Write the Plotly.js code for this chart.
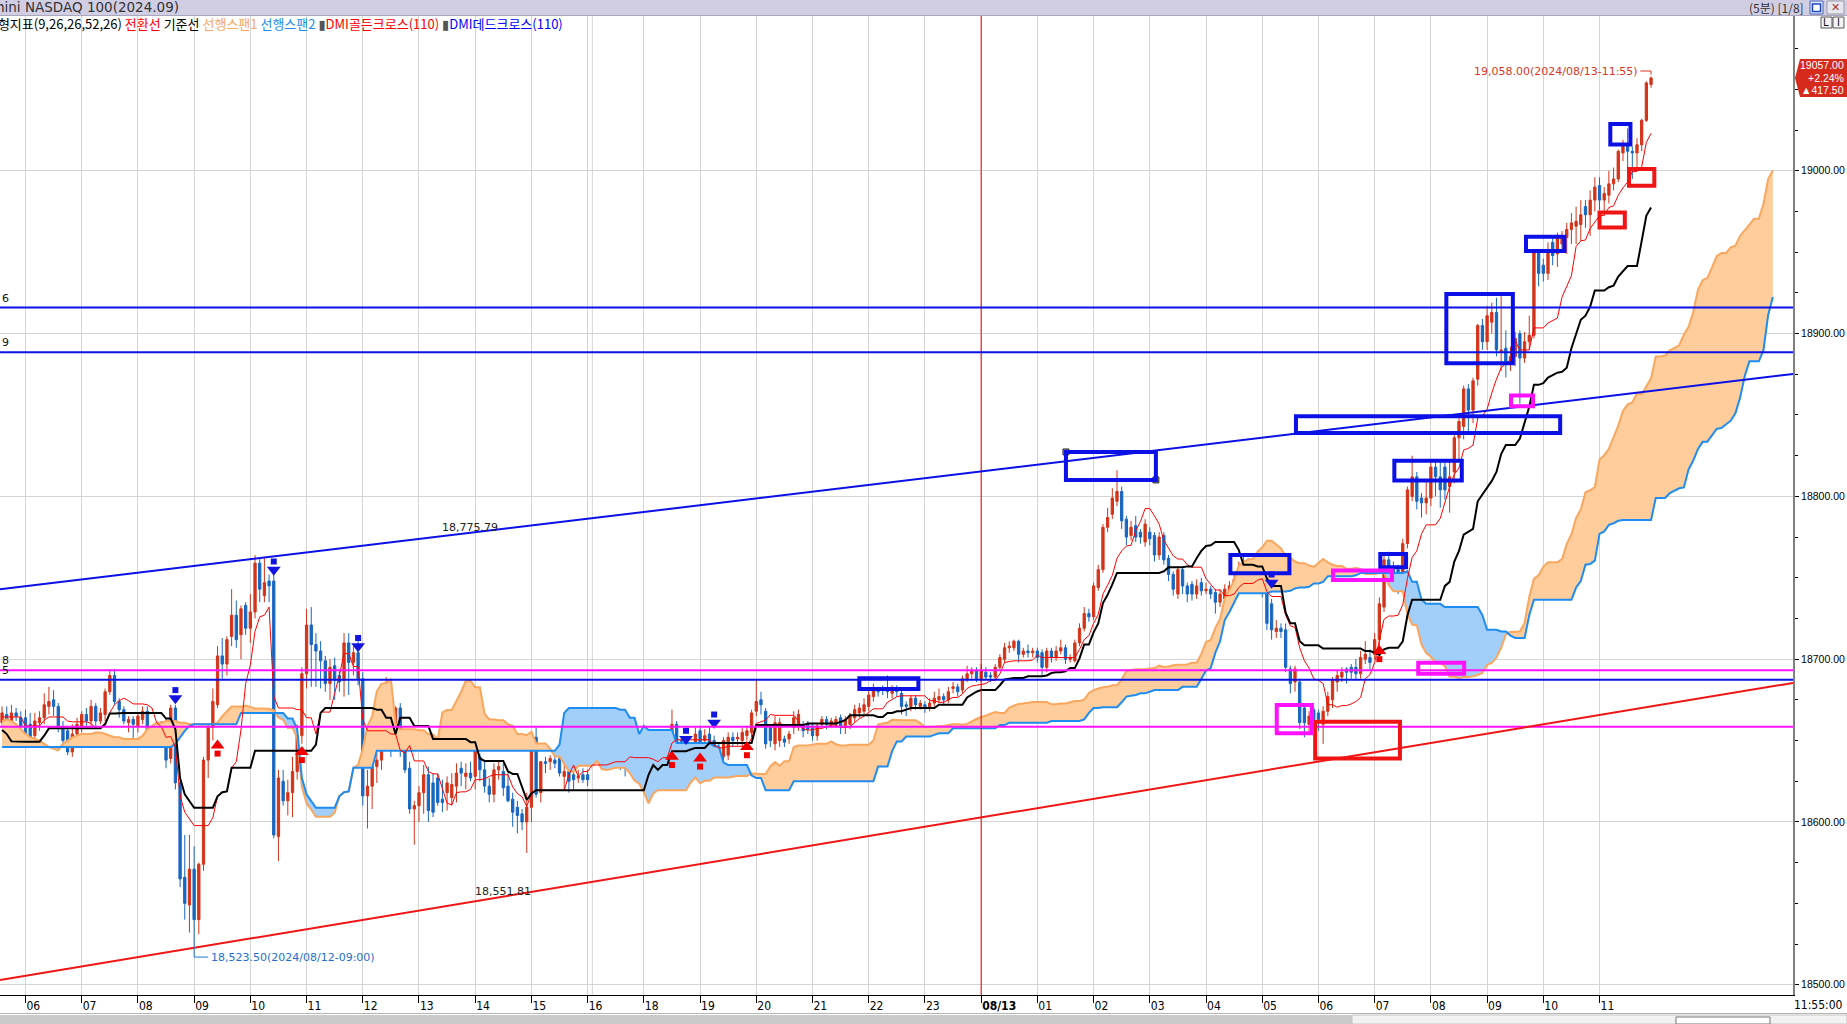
<!DOCTYPE html>
<html>
<head>
<meta charset="utf-8">
<script src="https://cdn.plot.ly/plotly-3.0.1.min.js"></script>
<style>
html,body{margin:0;padding:0;background:#fff;overflow:hidden}
#chart{width:1847px;height:1024px}
</style>
</head>
<body>
<div id="chart"></div>
<script>
// E-mini NASDAQ 100 (2024.09), 5-minute bars. Bar 0 = 08/12 06:00, one bar per 5 minutes,
// session break 17:00-18:00 skipped. First bar = 05:35, last bar = 08/13 11:55.
const firstBar = -5;
const barsPerHour = 12;

const opens = [
  18661,18666,18660,18667,18664,18664,18660,18653,18661,18664,
  18671,18675,18671,18658,18656,18643,18654,18659,18666,18662,
  18671,18662,18666,18680,18690,18674,18669,18661,18663,18659,
  18663,18668,18654,18650,18652,18661,18639,18670,18624,18566,
  18549,18571,18540,18574,18638,18658,18672,18702,18697,18714,
  18727,18715,18733,18719,18729,18759,18739,18748,18748,18591,
  18625,18613,18618,18631,18653,18691,18721,18709,18705,18699,
  18685,18696,18690,18687,18710,18698,18704,18688,18616,18622,
  18634,18638,18661,18670,18653,18670,18652,18633,18608,18610,
  18618,18629,18624,18627,18614,18618,18615,18622,18633,18628,
  18630,18628,18640,18632,18622,18617,18632,18631,18622,18614,
  18609,18605,18600,18609,18652,18618,18637,18637,18638,18639,
  18628,18631,18629,18627,18629,18629,18648,18641,18645,18641,
  18642,18644,18644,18635,18633,18630,18640,18636,18641,18641,
  18640,18644,18649,18644,18660,18650,18638,18642,18645,18656,
  18650,18654,18650,18646,18640,18641,18652,18651,18650,18653,
  18655,18668,18675,18668,18658,18648,18650,18651,18651,18658,
  18660,18660,18660,18659,18653,18660,18663,18660,18660,18664,
  18659,18660,18664,18667,18668,18671,18677,18681,18682,18682,
  18679,18682,18679,18672,18671,18676,18671,18672,18670,18673,
  18675,18677,18675,18682,18683,18681,18688,18691,18693,18688,
  18692,18690,18689,18695,18700,18707,18707,18711,18703,18705,
  18704,18705,18704,18695,18705,18701,18705,18707,18700,18699,
  18710,18719,18728,18726,18744,18755,18781,18789,18797,18803,
  18786,18776,18782,18778,18772,18778,18776,18764,18776,18762,
  18752,18740,18755,18745,18746,18740,18747,18742,18743,18741,
  18735,18737,18740,18742,18748,18753,18755,18746,18750,18753,
  18743,18734,18717,18719,18718,18694,18686,18686,18670,18660,
  18669,18667,18660,18668,18675,18686,18689,18694,18695,18695,
  18691,18700,18701,18703,18712,18732,18761,18755,18755,18753,
  18771,18800,18812,18799,18796,18799,18818,18812,18818,18806,
  18815,18836,18843,18866,18853,18872,18905,18895,18907,18913,
  18889,18891,18883,18886,18900,18885,18895,18899,18950,18942,
  18937,18956,18949,18955,18959,18964,18966,18967,18978,18973,
  18982,18991,18982,18985,18992,18995,19011,19015,19012,19011,
  19016,19031,19053
];
const highs = [
  18671,18671,18672,18670,18668,18669,18667,18667,18668,18679,
  18683,18681,18673,18662,18658,18660,18664,18668,18670,18675,
  18673,18670,18682,18694,18694,18676,18671,18665,18665,18667,
  18671,18671,18658,18655,18662,18664,18672,18672,18626,18592,
  18592,18585,18575,18640,18660,18682,18708,18713,18714,18743,
  18736,18733,18735,18740,18764,18762,18762,18752,18752,18632,
  18632,18626,18640,18660,18695,18731,18732,18716,18711,18702,
  18700,18701,18693,18716,18716,18708,18712,18692,18632,18636,
  18642,18671,18689,18676,18671,18673,18656,18637,18613,18622,
  18635,18634,18630,18630,18626,18628,18630,18636,18637,18636,
  18637,18646,18642,18638,18627,18636,18638,18636,18630,18618,
  18613,18608,18618,18654,18658,18637,18640,18641,18644,18642,
  18638,18634,18633,18632,18633,18632,18652,18649,18648,18646,
  18651,18649,18646,18637,18640,18644,18642,18643,18643,18643,
  18644,18651,18651,18669,18662,18652,18645,18649,18658,18659,
  18657,18659,18653,18648,18652,18655,18655,18655,18658,18659,
  18669,18687,18680,18670,18660,18665,18664,18653,18656,18668,
  18669,18662,18662,18661,18661,18665,18665,18664,18665,18666,
  18665,18667,18672,18673,18676,18681,18685,18683,18684,18690,
  18684,18684,18681,18674,18678,18678,18675,18674,18676,18680,
  18682,18679,18683,18686,18685,18690,18696,18695,18695,18697,
  18695,18692,18697,18703,18710,18711,18712,18712,18707,18709,
  18707,18707,18706,18707,18707,18708,18712,18709,18703,18712,
  18722,18732,18731,18747,18758,18783,18793,18805,18816,18806,
  18788,18785,18788,18780,18786,18781,18778,18778,18778,18764,
  18754,18757,18757,18747,18748,18749,18750,18747,18745,18743,
  18743,18746,18748,18752,18760,18765,18762,18762,18760,18757,
  18746,18737,18724,18722,18722,18696,18696,18688,18672,18668,
  18671,18669,18671,18680,18689,18693,18695,18695,18697,18700,
  18705,18711,18706,18716,18738,18764,18766,18760,18758,18774,
  18806,18825,18815,18802,18810,18821,18821,18821,18821,18821,
  18840,18848,18868,18869,18873,18906,18909,18917,18919,18922,
  18923,18902,18892,18901,18902,18901,18911,18950,18950,18946,
  18956,18959,18962,18963,18968,18974,18978,18982,18982,18988,
  18996,18996,18990,19000,19002,19013,19019,19026,19015,19020,
  19032,19055,19058
];
const lows = [
  18658,18660,18657,18662,18657,18646,18647,18646,18656,18660,
  18666,18665,18655,18646,18641,18640,18650,18655,18658,18658,
  18658,18660,18662,18678,18672,18664,18660,18655,18651,18655,
  18660,18650,18646,18646,18648,18633,18636,18620,18560,18540,
  18532,18523.5,18531,18570,18627,18650,18670,18688,18690,18708,
  18707,18700,18715,18710,18725,18735,18735,18735,18590,18576,
  18610,18604,18603,18626,18648,18682,18683,18683,18682,18680,
  18675,18675,18680,18677,18678,18690,18684,18610,18596,18608,
  18624,18632,18652,18640,18645,18640,18630,18605,18586,18600,
  18605,18600,18603,18610,18606,18607,18610,18612,18622,18620,
  18625,18620,18625,18618,18612,18612,18626,18616,18612,18597,
  18593,18595,18581,18600,18615,18612,18630,18632,18633,18628,
  18620,18618,18620,18624,18624,18622,18638,18636,18636,18638,
  18640,18640,18632,18628,18630,18628,18634,18632,18638,18637,
  18638,18641,18640,18641,18646,18633,18632,18637,18642,18645,
  18646,18643,18640,18634,18636,18638,18646,18647,18646,18650,
  18652,18665,18666,18645,18646,18644,18646,18646,18648,18654,
  18656,18652,18654,18650,18650,18658,18657,18658,18658,18654,
  18654,18657,18661,18664,18665,18668,18674,18677,18678,18676,
  18676,18677,18666,18665,18668,18669,18669,18667,18668,18671,
  18673,18672,18673,18679,18677,18679,18686,18688,18686,18686,
  18687,18686,18687,18693,18698,18704,18705,18698,18701,18701,
  18701,18698,18690,18692,18698,18699,18703,18697,18698,18698,
  18708,18717,18723,18724,18742,18753,18778,18786,18794,18780,
  18770,18773,18772,18771,18769,18770,18760,18761,18758,18748,
  18739,18737,18740,18735,18736,18737,18739,18740,18737,18728,
  18732,18734,18738,18738,18745,18750,18744,18744,18746,18738,
  18718,18712,18713,18713,18692,18679,18680,18657,18652,18654,
  18658,18656,18648,18665,18670,18680,18686,18685,18688,18687,
  18688,18697,18693,18700,18708,18729,18750,18744,18740,18748,
  18768,18797,18792,18787,18789,18794,18800,18793,18798,18790,
  18808,18822,18835,18840,18845,18868,18890,18890,18900,18886,
  18877,18873,18877,18880,18857,18882,18890,18897,18929,18932,
  18933,18942,18941,18950,18949,18955,18955,18957,18965,18960,
  18975,18976,18973,18980,18988,18993,19006,18997,18995,19000,
  19012,19030,19051
];
const closes = [
  18667,18663,18667,18665,18659,18650,18650,18662,18664,18672,
  18674,18671,18658,18650,18643,18654,18660,18666,18662,18671,
  18662,18667,18680,18690,18674,18669,18662,18663,18660,18665,
  18668,18654,18650,18652,18661,18638,18670,18624,18565,18550,
  18571,18540,18574,18638,18658,18674,18702,18697,18712,18727,
  18712,18731,18719,18729,18759,18743,18747,18745,18592,18627,
  18613,18618,18631,18653,18691,18721,18709,18705,18699,18685,
  18695,18687,18686,18710,18698,18704,18688,18616,18622,18634,
  18638,18661,18675,18653,18670,18651,18632,18608,18610,18618,
  18629,18607,18606,18612,18612,18624,18623,18630,18630,18630,
  18627,18644,18632,18622,18617,18632,18634,18621,18613,18606,
  18604,18600,18609,18652,18617,18637,18636,18639,18636,18630,
  18631,18625,18626,18628,18626,18626,18642,18645,18641,18643,
  18645,18646,18634,18633,18637,18641,18637,18641,18640,18639,
  18642,18649,18644,18660,18649,18637,18643,18647,18654,18648,
  18653,18647,18646,18640,18650,18652,18650,18652,18655,18656,
  18667,18674,18672,18648,18650,18661,18661,18649,18654,18664,
  18666,18656,18657,18653,18659,18663,18660,18662,18663,18659,
  18663,18665,18669,18670,18672,18678,18681,18680,18681,18680,
  18681,18680,18671,18671,18676,18672,18673,18670,18673,18676,
  18677,18675,18680,18683,18680,18688,18691,18693,18688,18693,
  18689,18689,18695,18701,18707,18708,18711,18703,18705,18704,
  18705,18701,18695,18705,18701,18705,18707,18700,18701,18710,
  18719,18728,18726,18745,18755,18781,18787,18799,18803,18785,
  18775,18781,18775,18775,18783,18774,18764,18775,18761,18752,
  18743,18755,18745,18740,18740,18745,18742,18743,18740,18735,
  18740,18743,18745,18749,18755,18760,18747,18753,18754,18742,
  18722,18718,18719,18717,18695,18685,18694,18661,18661,18665,
  18663,18663,18668,18677,18687,18690,18692,18692,18692,18691,
  18701,18703,18698,18712,18734,18761,18755,18751,18749,18771,
  18804,18812,18797,18796,18799,18818,18812,18804,18804,18812,
  18836,18846,18866,18853,18871,18905,18895,18911,18913,18890,
  18890,18883,18886,18897,18885,18895,18899,18950,18937,18937,
  18950,18948,18959,18959,18964,18968,18969,18973,18973,18982,
  18990,18982,18986,18992,18995,19012,19015,19012,19011,19016,
  19031,19054,19057
];

// previous session settlement, for the change figures of the price tag
const prevClose = 18639.5;

// Ichimoku (9,26,26,52,26): values for the opening bars, whose look-back windows
// reach before the first bar loaded
const kijunHead = [
  18656.5,18654,18649.5,18649.3,18649.3,18649.3,18649.3,18649.3,18649.3,18653,
  18657.5,18657.5,18657.5,18657.5,18657.5,18657.5,18657.5,18657.5,18657.5,18657.5,
  18657.5,18657.5,18660,18666.7,18666.7
];
const span1Head = [
  18662,18663,18662,18660,18657,18654,18652,18651,18650,18648,
  18646,18645,18644,18648,18650,18652,18653,18654,18654,18654,
  18655,18655,18654,18653,18652,18652,18651,18651,18651,18651,
  18653,18657,18659,18661,18661,18662,18662,18662,18661,18661,
  18660,18660,18660,18660,18660,18660,18661,18665,18668,18671,
  18671
];
const span2Head = [
  18646,18646,18646,18646,18646,18646,18646,18646,18646,18646,
  18646,18646,18646,18646,18646,18646,18646,18646,18646,18646,
  18646,18646,18646,18646,18646,18646,18646,18646,18646,18646,
  18646,18646,18646,18646,18646,18646,18646,18648,18652,18656,
  18659,18660,18660,18660,18660,18660,18660,18660,18660,18660,
  18660
];

// DMI(110) cross signals: bar number and price level of each arrow
const dmiGoldenBars = [41, 59, 138, 144, 154, 289];
const dmiGoldenLevels = [18646, 18642, 18639, 18638, 18645, 18704];
const dmiDeadBars = [32, 53, 71, 141, 147, 266];
const dmiDeadLevels = [18677, 18756, 18709, 18652, 18662, 18748];

// hour labels along the time axis (one every 12 bars from bar 0)
const hourLabels = ['06','07','08','09','10','11','12','13','14','15','16','18','19','20',
  '21','22','23','08/13','01','02','03','04','05','06','07','08','09','10','11'];

// horizontal price levels and their (left-clipped) tags
const levelPrices = [18916.0, 18888.6, 18693.2, 18687.4, 18658.5];
const levelColors = ['#0a10e6', '#0a10e6', '#ff10ff', '#0a10e6', '#ff10ff'];
const levelTags = ['6', '9', '8', '5', ''];

// trend lines: [bar, price] at both ends
const trendUpper = [[-5.44, 18742.9], [377.3, 18875.2]];
const trendLower = [[-5.44, 18502.9], [377.3, 18685.4]];

// drawn boxes: [bar from, bar to, price low, price high]
const blueBoxes = [
  [222.1, 241.3, 18810.1, 18827.3], [178.0, 190.6, 18681.6, 18688.3],
  [257.2, 269.8, 18752.8, 18764.0], [271.2, 327.6, 18839.0, 18849.3],
  [292.2, 306.6, 18809.8, 18821.9], [289.2, 294.7, 18756.4, 18764.6],
  [303.3, 317.5, 18881.8, 18924.3], [320.3, 328.5, 18950.7, 18959.5],
  [338.3, 342.6, 19016.1, 19028.7]
];
const redBoxes = [
  [275.3, 293.4, 18639.0, 18661.6], [336.0, 341.4, 18965.2, 18974.4],
  [342.3, 347.7, 18990.8, 19001.1]
];
const magentaBoxes = [
  [267.1, 274.6, 18654.5, 18671.9], [279.1, 291.7, 18748.6, 18754.4],
  [297.3, 307.1, 18691.1, 18697.8], [317.1, 321.8, 18855.3, 18861.9]
];

// ---------------------------------------------------------------------------
const RED = '#d2341a', BLUE = '#1866c0';
const N = opens.length;
const bars = opens.map((_, i) => firstBar + i);
const lastBar = bars[N - 1];

function midRange(end, len) {
  let hi = -Infinity, lo = Infinity;
  for (let k = Math.max(0, end - len + 1); k <= end; k++) {
    if (highs[k] > hi) hi = highs[k];
    if (lows[k] < lo) lo = lows[k];
  }
  return (hi + lo) / 2;
}
const tenkan = bars.map((_, i) => midRange(i, 9));
const kijun = bars.map((_, i) => i < kijunHead.length ? kijunHead[i] : midRange(i, 26));
const SHIFT = 26;
const cloudX = [], span1 = [], span2 = [];
for (let j = 0; j < N + SHIFT; j++) {
  cloudX.push(firstBar + j);
  if (j < span1Head.length) {
    span1.push(span1Head[j]); span2.push(span2Head[j]);
  } else {
    const s = j - SHIFT;
    span1.push((tenkan[s] + kijun[s]) / 2);
    span2.push(midRange(s, 52));
  }
}
const cloudTop = span1.map((v, i) => Math.max(v, span2[i]));

function barTime(b) {
  let date = '08/12', h, m = ((b % 12) + 12) % 12 * 5;
  if (b < 0) h = 5;
  else if (b < 132) h = 6 + Math.floor(b / 12);
  else if (b < 204) h = 18 + Math.floor((b - 132) / 12);
  else { date = '08/13'; h = Math.floor((b - 204) / 12); }
  return '2024/' + date + '-' + String(h).padStart(2, '0') + ':' + String(m).padStart(2, '0');
}
const fmt = v => v.toLocaleString('en-US', {minimumFractionDigits: 2, maximumFractionDigits: 2});

let hiIdx = 0, loIdx = 0;
for (let i = 1; i < N; i++) {
  if (highs[i] >= highs[hiIdx]) hiIdx = i;
  if (lows[i] < lows[loIdx]) loIdx = i;
}
const hiBar = bars[hiIdx], loBar = bars[loIdx];
const lastClose = closes[N - 1];
const chg = lastClose - prevClose;
const pct = chg / prevClose * 100;

const none = {width: 0, color: 'rgba(0,0,0,0)'};
const traces = [
  {x: cloudX, y: span2, mode: 'lines', line: none, hoverinfo: 'skip'},
  {x: cloudX, y: cloudTop, mode: 'lines', line: none, fill: 'tonexty', fillcolor: '#ffcd9c', hoverinfo: 'skip'},
  {x: cloudX, y: span1, mode: 'lines', line: none, hoverinfo: 'skip'},
  {x: cloudX, y: cloudTop, mode: 'lines', line: none, fill: 'tonexty', fillcolor: '#a2cefa', hoverinfo: 'skip'},
  {x: cloudX, y: span1, mode: 'lines', line: {color: '#f9a75e', width: 2}, hoverinfo: 'skip'},
  {x: cloudX, y: span2, mode: 'lines', line: {color: '#1e8cf0', width: 2}, hoverinfo: 'skip'},
  {
    type: 'candlestick', x: bars, open: opens, high: highs, low: lows, close: closes,
    increasing: {line: {color: RED, width: 1}, fillcolor: RED},
    decreasing: {line: {color: BLUE, width: 1}, fillcolor: BLUE},
    whiskerwidth: 0, hoverinfo: 'skip'
  },
  {x: bars, y: tenkan, mode: 'lines', line: {color: '#ff0000', width: 1}, hoverinfo: 'skip'},
  {x: bars, y: kijun, mode: 'lines', line: {color: '#000000', width: 2}, hoverinfo: 'skip'},
  // DMI dead cross arrows (shaft + head)
  {x: dmiDeadBars, y: dmiDeadLevels.map(v => v + 4), mode: 'markers',
   marker: {symbol: 'square', size: 6, color: '#1414e0'}, hoverinfo: 'skip'},
  {x: dmiDeadBars, y: dmiDeadLevels.map(v => v - 1), mode: 'markers',
   marker: {symbol: 'triangle-down', size: 12, color: '#1414e0'}, hoverinfo: 'skip'},
  // DMI golden cross arrows
  {x: dmiGoldenBars, y: dmiGoldenLevels.map(v => v - 4), mode: 'markers',
   marker: {symbol: 'square', size: 6, color: '#f00000'}, hoverinfo: 'skip'},
  {x: dmiGoldenBars, y: dmiGoldenLevels.map(v => v + 1), mode: 'markers',
   marker: {symbol: 'triangle-up', size: 12, color: '#f00000'}, hoverinfo: 'skip'},
  // selection handles of the first box
  {x: [blueBoxes[0][0], blueBoxes[0][1]], y: [blueBoxes[0][3], blueBoxes[0][2]], mode: 'markers',
   marker: {symbol: 'square', size: 6, color: '#8a8a8a', line: {color: '#333', width: 1}}, hoverinfo: 'skip'}
];

// pixel helpers for frame decorations (plot area spans x 0..1793, y 16..995)
const PW = 1793, PT = 16, PB = 995, PH = PB - PT;
const PX = x => x / PW;
const PY = y => (PB - y) / PH;

const shapes = [];
// title bar
shapes.push({type: 'rect', xref: 'paper', yref: 'paper', x0: PX(0), x1: PX(1847), y0: PY(0), y1: PY(15),
  fillcolor: '#d1cee4', line: {width: 0}, layer: 'above'});
shapes.push({type: 'line', xref: 'paper', yref: 'paper', x0: PX(0), x1: PX(1847), y0: PY(15.5), y1: PY(15.5),
  line: {color: '#a9a6bd', width: 1}});
// window buttons
shapes.push({type: 'rect', xref: 'paper', yref: 'paper', x0: PX(1810), x1: PX(1823), y0: PY(1), y1: PY(14),
  fillcolor: '#dfe4f5', line: {color: '#4a64b8', width: 1}});
shapes.push({type: 'rect', xref: 'paper', yref: 'paper', x0: PX(1812.5), x1: PX(1820.5), y0: PY(4), y1: PY(11.5),
  fillcolor: '#ffffff', line: {color: '#1f47c8', width: 1.5}});
shapes.push({type: 'rect', xref: 'paper', yref: 'paper', x0: PX(1827), x1: PX(1844), y0: PY(1), y1: PY(14),
  fillcolor: '#e6e6ee', line: {color: '#9a9aa8', width: 1}});
shapes.push({type: 'rect', xref: 'paper', yref: 'paper', x0: PX(1821), x1: PX(1832), y0: PY(17), y1: PY(28),
  fillcolor: '#f4f4f4', line: {color: '#555', width: 1}});
shapes.push({type: 'rect', xref: 'paper', yref: 'paper', x0: PX(1833), x1: PX(1844), y0: PY(17), y1: PY(28),
  fillcolor: '#f4f4f4', line: {color: '#555', width: 1}});
// bottom scroll bar
shapes.push({type: 'rect', xref: 'paper', yref: 'paper', x0: PX(0), x1: PX(1352), y0: PY(1015), y1: PY(1024),
  fillcolor: '#cacaca', line: {width: 0}});
shapes.push({type: 'line', xref: 'paper', yref: 'paper', x0: PX(0), x1: PX(1847), y0: PY(1013.5), y1: PY(1013.5),
  line: {color: '#b5b5b5', width: 1}});
shapes.push({type: 'rect', xref: 'paper', yref: 'paper', x0: PX(1352), x1: PX(1847), y0: PY(1015), y1: PY(1024),
  fillcolor: '#f2f2f2', line: {color: '#c4c4c4', width: 1}});
shapes.push({type: 'rect', xref: 'paper', yref: 'paper', x0: PX(1676), x1: PX(1770), y0: PY(1017), y1: PY(1024),
  fillcolor: '#ffffff', line: {color: '#777', width: 1}});
// extra session separator next to 16:00 and the date change line
shapes.push({type: 'line', xref: 'x', yref: 'paper', x0: 121, x1: 121, y0: 0, y1: 1,
  line: {color: '#d4d4d4', width: 1}, layer: 'below'});
shapes.push({type: 'line', xref: 'x', yref: 'paper', x0: 204, x1: 204, y0: 0, y1: 1,
  line: {color: '#e00000', width: 1}, layer: 'above'});
// price levels
levelPrices.forEach((p, i) => shapes.push({type: 'line', xref: 'paper', yref: 'y', x0: 0, x1: 1, y0: p, y1: p,
  line: {color: levelColors[i], width: 2}}));
// trend lines
shapes.push({type: 'line', xref: 'x', yref: 'y', x0: trendUpper[0][0], y0: trendUpper[0][1],
  x1: trendUpper[1][0], y1: trendUpper[1][1], line: {color: '#0a10e6', width: 2}});
shapes.push({type: 'line', xref: 'x', yref: 'y', x0: trendLower[0][0], y0: trendLower[0][1],
  x1: trendLower[1][0], y1: trendLower[1][1], line: {color: '#f01414', width: 2}});
// boxes
const addBoxes = (list, color) => list.forEach(b => shapes.push({type: 'rect', xref: 'x', yref: 'y',
  x0: b[0], x1: b[1], y0: b[2], y1: b[3], line: {color: color, width: 4}, fillcolor: 'rgba(0,0,0,0)'}));
addBoxes(blueBoxes, '#0a10e6');
addBoxes(redBoxes, '#f01414');
addBoxes(magentaBoxes, '#ff10ff');
// low / high markers
shapes.push({type: 'path', xref: 'x', yref: 'y',
  path: `M ${loBar},${lows[loIdx]} L ${loBar},${lows[loIdx] - 6.5} L ${loBar + 3},${lows[loIdx] - 6.5}`,
  line: {color: '#1e78d2', width: 1}});
shapes.push({type: 'path', xref: 'x', yref: 'y',
  path: `M ${hiBar - 2.3},${highs[hiIdx] + 3.3} L ${hiBar},${highs[hiIdx] + 3.3} L ${hiBar},${highs[hiIdx] + 1}`,
  line: {color: '#d9381e', width: 1}});
// price tag
shapes.push({type: 'path', xref: 'paper', yref: 'paper',
  path: `M ${PX(1795)},${PY(78)} L ${PX(1800)},${PY(59)} L ${PX(1847)},${PY(59)} L ${PX(1847)},${PY(97)} L ${PX(1800)},${PY(97)} Z`,
  fillcolor: '#d62a1c', line: {width: 0}});

const ann = [];
const uiFont = 'DejaVu Sans, Noto Sans CJK KR, sans-serif';
const numFont = 'Liberation Sans, Arial, sans-serif';
ann.push({xref: 'paper', yref: 'paper', x: PX(-24), y: PY(7), xanchor: 'left', yanchor: 'middle', showarrow: false,
  text: 'E-mini NASDAQ 100(2024.09)', font: {family: uiFont, size: 13.5, color: '#333'}});
ann.push({xref: 'paper', yref: 'paper', x: PX(1806), y: PY(7), xanchor: 'right', yanchor: 'middle', showarrow: false,
  text: '(5분) [1/8]', font: {family: 'Noto Sans CJK KR, DejaVu Sans', size: 12, color: '#333'}});
ann.push({xref: 'paper', yref: 'paper', x: PX(1835.5), y: PY(7.5), xanchor: 'center', yanchor: 'middle', showarrow: false,
  text: '✕', font: {family: uiFont, size: 11, color: '#a8322a'}});
ann.push({xref: 'paper', yref: 'paper', x: PX(1826.5), y: PY(22.5), xanchor: 'center', yanchor: 'middle', showarrow: false,
  text: 'L', font: {family: uiFont, size: 10, color: '#111'}});
ann.push({xref: 'paper', yref: 'paper', x: PX(1838.5), y: PY(22.5), xanchor: 'center', yanchor: 'middle', showarrow: false,
  text: 'I', font: {family: uiFont, size: 10, color: '#111'}});
ann.push({xref: 'paper', yref: 'paper', x: PX(-40), y: PY(23), xanchor: 'left', yanchor: 'middle', showarrow: false,
  text: '일목균형지표(9,26,26,52,26) <span style="color:#ff0000">전환선</span> 기준선 ' +
        '<span style="color:#f9a75e">선행스팬1</span> <span style="color:#1e8cf0">선행스팬2</span> ' +
        '<span style="color:#555">▮</span><span style="color:#ff0000">DMI골든크로스(110)</span> ' +
        '<span style="color:#555">▮</span><span style="color:#0000ff">DMI데드크로스(110)</span>',
  font: {family: 'Noto Sans CJK KR, DejaVu Sans', size: 13, color: '#000'}});
// level tags at the left edge
levelPrices.forEach((p, i) => {
  if (!levelTags[i]) return;
  ann.push({xref: 'paper', yref: 'y', x: 0, y: p, xanchor: 'left', yanchor: 'bottom', yshift: 1, showarrow: false,
    text: levelTags[i], font: {family: uiFont, size: 11, color: '#111'}});
});
// trend line values
ann.push({xref: 'x', yref: 'y', x: 94.9, y: 18780.6, xanchor: 'center', yanchor: 'middle', showarrow: false,
  text: '18,775.79', font: {family: uiFont, size: 11, color: '#222'}});
ann.push({xref: 'x', yref: 'y', x: 101.9, y: 18557.0, xanchor: 'center', yanchor: 'middle', showarrow: false,
  text: '18,551.81', font: {family: uiFont, size: 11, color: '#222'}});
// session low / high
ann.push({xref: 'x', yref: 'y', x: loBar + 3.1, y: lows[loIdx] - 6.5, xanchor: 'left', yanchor: 'middle', showarrow: false,
  text: fmt(lows[loIdx]) + '(' + barTime(loBar) + ')', font: {family: uiFont, size: 11, color: '#1e6fd0'}});
ann.push({xref: 'x', yref: 'y', x: hiBar - 2.4, y: highs[hiIdx] + 3.3, xanchor: 'right', yanchor: 'middle', showarrow: false,
  text: fmt(highs[hiIdx]) + '(' + barTime(hiBar) + ')', font: {family: uiFont, size: 11, color: '#d9381e'}});
// price tag text
[[lastClose.toFixed(2), 65], [(pct >= 0 ? '+' : '') + pct.toFixed(2) + '%', 78],
 [(chg >= 0 ? '▲' : '▼') + Math.abs(chg).toFixed(2), 90]].forEach(t =>
  ann.push({xref: 'paper', yref: 'paper', x: PX(1845.5), y: PY(t[1]), xanchor: 'right', yanchor: 'middle',
    showarrow: false, text: t[0], font: {family: numFont, size: 10.5, color: '#ffffff'}}));
// current time under the price axis
ann.push({xref: 'paper', yref: 'paper', x: PX(1845), y: PY(1005), xanchor: 'right', yanchor: 'middle', showarrow: false,
  text: barTime(lastBar).slice(-5) + ':00', font: {family: 'Liberation Sans Narrow, DejaVu Sans Condensed, DejaVu Sans', size: 12, color: '#000'}});

const tickVals = hourLabels.map((_, i) => i * barsPerHour);
const tickText = hourLabels.map(t => t.indexOf('/') > 0 ? '<b>' + t + '</b>' : t);

const layout = {
  width: 1847, height: 1024,
  margin: {l: 0, r: 54, t: 16, b: 29, pad: 0},
  paper_bgcolor: '#ffffff', plot_bgcolor: '#ffffff',
  showlegend: false,
  font: {family: uiFont, size: 11, color: '#000'},
  xaxis: {
    range: [-5.44, 377.3], tickmode: 'array', tickvals: tickVals, ticktext: tickText,
    showgrid: true, gridcolor: '#d4d4d4', gridwidth: 1, zeroline: false,
    ticks: 'outside', ticklen: 7, tickwidth: 1, tickcolor: '#000',
    ticklabelposition: 'outside right',
    tickfont: {family: 'Liberation Sans Narrow, DejaVu Sans Condensed, DejaVu Sans', size: 12, color: '#000'},
    showline: true, linecolor: '#000', linewidth: 1,
    rangeslider: {visible: false}, fixedrange: true
  },
  yaxis: {
    range: [18493.7, 19095.1], side: 'right', tick0: 18500, dtick: 100, tickformat: '.2f',
    showgrid: true, gridcolor: '#d4d4d4', gridwidth: 1, zeroline: false,
    ticks: 'outside', ticklen: 4, tickcolor: '#000', ticklabelstandoff: 0,
    minor: {dtick: 25, ticks: 'outside', ticklen: 3, tickcolor: '#000', showgrid: false},
    tickfont: {family: numFont, size: 10.5, color: '#000'},
    showline: true, linecolor: '#808080', linewidth: 2, fixedrange: true
  },
  shapes: shapes,
  annotations: ann
};

Plotly.newPlot('chart', traces, layout, {staticPlot: true, displayModeBar: false});
</script>
</body>
</html>
